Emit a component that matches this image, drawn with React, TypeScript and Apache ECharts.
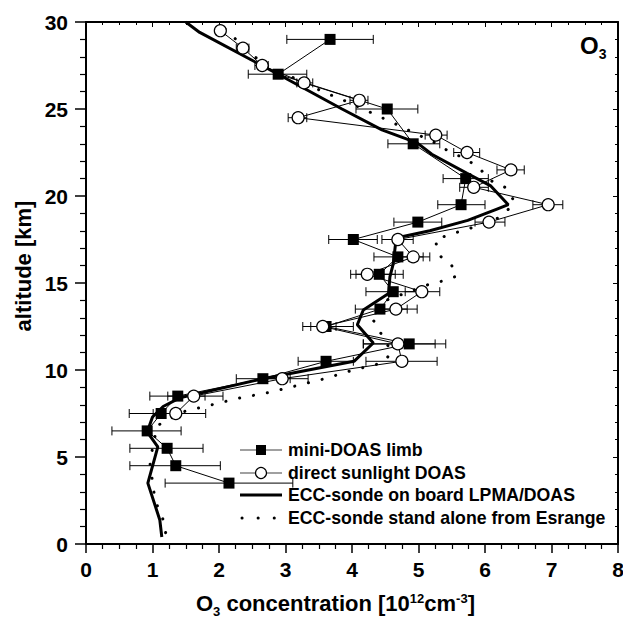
import React, { useEffect, useRef } from "react";
import * as echarts from "echarts";

// ---- data ----
// mini-DOAS limb (filled squares) with horizontal error bars
const limbAlt = [29, 27, 25, 23, 21, 19.5, 18.5, 17.5, 16.5, 15.5, 14.5, 13.5, 12.5, 11.5, 10.5, 9.5, 8.5, 7.5, 6.5, 5.5, 4.5, 3.5];
const limbO3 = [3.67, 2.89, 4.53, 4.92, 5.71, 5.64, 4.99, 4.02, 4.69, 4.41, 4.62, 4.42, 3.61, 4.86, 3.61, 2.66, 1.38, 1.13, 0.92, 1.22, 1.35, 2.15];
const limbLow = [3.02, 2.44, 4.06, 4.54, 5.37, 5.29, 4.63, 3.65, 4.33, 3.98, 4.21, 4.05, 3.26, 4.17, 3.19, 2.26, 0.96, 0.65, 0.39, 0.66, 0.66, 1.19];
const limbHigh = [4.32, 3.32, 4.99, 5.32, 6.05, 6.0, 5.35, 4.38, 5.07, 4.77, 5.02, 4.83, 4.02, 5.41, 4.02, 3.07, 1.79, 1.41, 1.43, 1.76, 2.02, 3.11];

// direct sunlight DOAS (open circles) with horizontal error bars
const sunAlt = [29.5, 28.5, 27.5, 26.5, 25.5, 24.5, 23.5, 22.5, 21.5, 20.5, 19.5, 18.5, 17.5, 16.5, 15.5, 14.5, 13.5, 12.5, 11.5, 10.5, 9.5, 8.5, 7.5];
const sunO3 = [2.02, 2.36, 2.65, 3.28, 4.11, 3.19, 5.26, 5.73, 6.39, 5.83, 6.95, 6.06, 4.69, 4.92, 4.23, 5.05, 4.66, 3.56, 4.69, 4.75, 2.95, 1.62, 1.35];
const sunLow = [null, 2.26, 2.54, 3.17, 3.97, 3.04, 5.10, 5.53, 6.18, 5.62, 6.72, 5.85, 4.45, 4.72, 4.06, 4.80, 4.45, 3.38, 4.17, 4.21, 2.65, 1.23, 1.01];
const sunHigh = [null, 2.45, 2.74, 3.41, 4.24, 3.32, 5.43, 5.92, 6.59, 6.05, 7.17, 6.30, 4.92, 5.17, 4.65, 5.32, 4.98, 3.76, 5.25, 5.28, 3.34, 2.06, 1.80];

// ECC-sonde on board LPMA/DOAS (thick solid line)
const eccAlt = [30.0, 29.4, 27.0, 25.0, 23.8, 23.05, 22.4, 21.3, 20.6, 19.5, 19.25, 18.6, 18.0, 17.6, 17.1, 16.1, 15.35, 14.4, 13.45, 12.6, 11.55, 10.5, 9.5, 8.4, 7.9, 7.3, 6.44, 5.58, 3.5, 1.38, 0.4];
const eccO3 = [1.50, 1.71, 2.89, 3.85, 4.45, 4.98, 5.20, 5.73, 6.08, 6.35, 6.18, 5.74, 5.17, 4.68, 4.65, 4.62, 4.57, 4.55, 4.17, 4.08, 4.32, 4.03, 2.66, 1.41, 1.16, 1.0, 0.92, 1.08, 0.93, 1.11, 1.14];

// ECC-sonde stand alone from Esrange (dotted line)
const esrAlt = [29.6, 28.1, 27.5, 26.4, 26.0, 25.3, 24.2, 23.0, 22.6, 22.2, 21.7, 20.9, 20.5, 19.65, 18.9, 18.5, 18.0, 17.5, 16.6, 16.0, 15.4, 15.1, 14.9, 14.0, 13.0, 12.2, 11.0, 10.4, 10.0, 9.5, 9.1, 8.7, 8.4, 8.0, 7.6, 6.8, 5.3, 4.7, 3.0, 2.1, 1.4, 0.2];
const esrO3 = [2.09, 2.50, 2.72, 3.34, 3.56, 4.0, 4.62, 5.28, 5.44, 5.67, 5.89, 6.08, 6.30, 6.45, 6.27, 6.08, 5.65, 5.25, 5.31, 5.50, 5.58, 5.35, 5.14, 4.51, 4.30, 4.42, 4.60, 4.45, 4.02, 3.59, 3.17, 2.74, 2.32, 1.89, 1.46, 1.07, 0.99, 0.96, 1.02, 1.08, 1.16, 1.22];

const xTicks = [0, 1, 2, 3, 4, 5, 6, 7, 8];
const yTicks = [0, 5, 10, 15, 20, 25, 30];

const seriesNames = [
  "mini-DOAS limb",
  "direct sunlight DOAS",
  "ECC-sonde on board LPMA/DOAS",
  "ECC-sonde stand alone from Esrange",
];

const FONT = "Arial, 'Liberation Sans', Helvetica, sans-serif";

function errorBarRender(params: any, api: any) {
  const lo = api.value(0);
  const hi = api.value(2);
  const alt = api.value(1);
  if (lo == null || hi == null || isNaN(lo) || isNaN(hi)) return { type: "group", children: [] };
  const p1 = api.coord([lo, alt]);
  const p2 = api.coord([hi, alt]);
  const h = 4.5;
  const st = { stroke: "#000", lineWidth: 1 };
  return {
    type: "group",
    children: [
      { type: "line", shape: { x1: p1[0], y1: p1[1], x2: p2[0], y2: p2[1] }, style: st },
      { type: "line", shape: { x1: p1[0], y1: p1[1] - h, x2: p1[0], y2: p1[1] + h }, style: st },
      { type: "line", shape: { x1: p2[0], y1: p2[1] - h, x2: p2[0], y2: p2[1] + h }, style: st },
    ],
  };
}

export default function App() {
  const ref = useRef<HTMLDivElement>(null);

  useEffect(() => {
    const chart = echarts.init(ref.current as HTMLDivElement, null, { renderer: "svg" });

    const limbData = limbAlt.map((a, i) => [limbO3[i], a]);
    const limbErr = limbAlt.map((a, i) => [limbLow[i], a, limbHigh[i]]);
    const sunData = sunAlt.map((a, i) => [sunO3[i], a]);
    const sunErr = sunAlt.map((a, i) => [sunLow[i], a, sunHigh[i]]);
    const eccData = eccAlt.map((a, i) => [eccO3[i], a]);
    const esrData = esrAlt.map((a, i) => [esrO3[i], a]);

    const axisLine = { show: true, onZero: false, lineStyle: { color: "#000", width: 2 } };
    const labelStyle = { fontFamily: FONT, fontWeight: "bold" as const, fontSize: 21, color: "#000" };

    // legend geometry
    const lgX0 = 240;
    const lgX1 = 282;
    const lgTx = 288;
    const lgY = [450, 473, 495, 518];
    const lgText = (i: number) => ({
      type: "text",
      x: lgTx,
      y: lgY[i],
      style: {
        text: seriesNames[i],
        fontFamily: FONT,
        fontWeight: "bold",
        fontSize: 17.7,
        fill: "#000",
        align: "left",
        verticalAlign: "middle",
      },
    });

    const option: any = {
      animation: false,
      backgroundColor: "#fff",
      grid: { left: 86, right: 5, top: 22, bottom: 74, containLabel: false, outerBoundsMode: "none" },
      xAxis: [
        {
          type: "value",
          min: xTicks[0],
          max: xTicks[xTicks.length - 1],
          interval: 1,
          position: "bottom",
          axisLine,
          axisTick: { show: true, inside: false, length: 9, lineStyle: { color: "#000", width: 1.5 } },
          minorTick: { show: true, splitNumber: 4, length: 5, lineStyle: { color: "#000", width: 1.2 } },
          axisLabel: { ...labelStyle, margin: 15, showMinLabel: true, showMaxLabel: true },
          splitLine: { show: false },
          minorSplitLine: { show: false },
        },
        {
          type: "value",
          min: xTicks[0],
          max: xTicks[xTicks.length - 1],
          interval: 1,
          position: "top",
          axisLine,
          axisTick: { show: true, inside: true, length: 5, lineStyle: { color: "#000", width: 1 } },
          minorTick: { show: true, splitNumber: 4, length: 3, lineStyle: { color: "#000", width: 1 } },
          axisLabel: { show: false },
          splitLine: { show: false },
        },
      ],
      yAxis: [
        {
          type: "value",
          min: yTicks[0],
          max: yTicks[yTicks.length - 1],
          interval: 5,
          position: "left",
          axisLine,
          axisTick: { show: true, inside: false, length: 11, lineStyle: { color: "#000", width: 1.5 } },
          minorTick: { show: true, splitNumber: 5, length: 6, lineStyle: { color: "#000", width: 1.2 } },
          axisLabel: { ...labelStyle, margin: 18, showMinLabel: true, showMaxLabel: true },
          splitLine: { show: false },
          minorSplitLine: { show: false },
        },
        {
          type: "value",
          min: yTicks[0],
          max: yTicks[yTicks.length - 1],
          interval: 5,
          position: "right",
          axisLine,
          axisTick: { show: true, inside: true, length: 5, lineStyle: { color: "#000", width: 1 } },
          minorTick: { show: true, splitNumber: 5, length: 3, lineStyle: { color: "#000", width: 1 } },
          axisLabel: { show: false },
          splitLine: { show: false },
        },
      ],
      series: [
        {
          name: seriesNames[3],
          type: "line",
          data: esrData,
          symbol: "none",
          z: 2,
          lineStyle: { color: "#000", width: 3, type: [0.1, 14], cap: "round" },
        },
        {
          name: seriesNames[2],
          type: "line",
          data: eccData,
          symbol: "none",
          z: 3,
          lineStyle: { color: "#000", width: 3 },
        },
        {
          name: "limb error",
          type: "custom",
          renderItem: errorBarRender,
          data: limbErr,
          encode: { x: [0, 2], y: 1 },
          z: 4,
        },
        {
          name: "sun error",
          type: "custom",
          renderItem: errorBarRender,
          data: sunErr,
          encode: { x: [0, 2], y: 1 },
          z: 4,
        },
        {
          name: seriesNames[0],
          type: "line",
          data: limbData,
          symbol: "rect",
          symbolSize: 11,
          showAllSymbol: true,
          z: 5,
          itemStyle: { color: "#000" },
          lineStyle: { color: "#000", width: 1 },
        },
        {
          name: seriesNames[1],
          type: "line",
          data: sunData,
          symbol: "circle",
          symbolSize: 12,
          showAllSymbol: true,
          z: 6,
          itemStyle: { color: "#fff", borderColor: "#000", borderWidth: 1.2 },
          lineStyle: { color: "#000", width: 1 },
        },
      ],
      graphic: [
        // y-axis title
        {
          type: "text",
          x: 23,
          y: 266,
          rotation: Math.PI / 2,
          style: {
            text: "altitude [km]",
            fontFamily: FONT,
            fontWeight: "bold",
            fontSize: 22,
            fill: "#000",
            align: "center",
            verticalAlign: "middle",
          },
        },
        // x-axis title
        {
          type: "text",
          x: 196,
          y: 592,
          style: {
            text: "{n|O}{sub|3}{n| concentration [10}{sup|12}{n|cm}{sup|-3}{n|]}",
            align: "left",
            verticalAlign: "top",
            fill: "#000",
            rich: {
              n: { fontFamily: FONT, fontWeight: "bold", fontSize: 22, lineHeight: 26, verticalAlign: "top", fill: "#000" },
              sub: { fontFamily: FONT, fontWeight: "bold", fontSize: 13, lineHeight: 6, verticalAlign: "bottom", fill: "#000" },
              sup: { fontFamily: FONT, fontWeight: "bold", fontSize: 13, lineHeight: 9, verticalAlign: "top", fill: "#000" },
            },
          },
        },
        // O3 label top right
        {
          type: "text",
          x: 580,
          y: 33,
          style: {
            text: "{n|O}{sub|3}",
            align: "left",
            verticalAlign: "top",
            fill: "#000",
            rich: {
              n: { fontFamily: FONT, fontWeight: "bold", fontSize: 24, lineHeight: 28, verticalAlign: "top", fill: "#000" },
              sub: { fontFamily: FONT, fontWeight: "bold", fontSize: 14, lineHeight: 4, verticalAlign: "bottom", fill: "#000" },
            },
          },
        },
        // legend: mini-DOAS limb
        { type: "line", shape: { x1: lgX0, y1: lgY[0], x2: lgX1, y2: lgY[0] }, style: { stroke: "#808080", lineWidth: 1.5 } },
        { type: "rect", shape: { x: (lgX0 + lgX1) / 2 - 5, y: lgY[0] - 5, width: 10, height: 10 }, style: { fill: "#000" } },
        lgText(0),
        // legend: direct sunlight DOAS
        { type: "line", shape: { x1: lgX0, y1: lgY[1], x2: lgX1, y2: lgY[1] }, style: { stroke: "#808080", lineWidth: 1.5 } },
        { type: "circle", shape: { cx: (lgX0 + lgX1) / 2, cy: lgY[1], r: 5.5 }, style: { fill: "#fff", stroke: "#000", lineWidth: 1.2 } },
        lgText(1),
        // legend: ECC on board
        { type: "line", shape: { x1: lgX0, y1: lgY[2], x2: lgX1, y2: lgY[2] }, style: { stroke: "#000", lineWidth: 3 } },
        lgText(2),
        // legend: ECC stand alone
        {
          type: "line",
          shape: { x1: lgX0 + 2, y1: lgY[3], x2: lgX1, y2: lgY[3] },
          style: { stroke: "#000", lineWidth: 3, lineDash: [0.1, 16], lineCap: "round" },
        },
        lgText(3),
      ],
    };

    chart.setOption(option);
    return () => chart.dispose();
  }, []);

  return (
    <div
      ref={ref}
      style={{ position: "fixed", left: 0, top: 0, width: 623, height: 618, background: "#fff" }}
    />
  );
}
